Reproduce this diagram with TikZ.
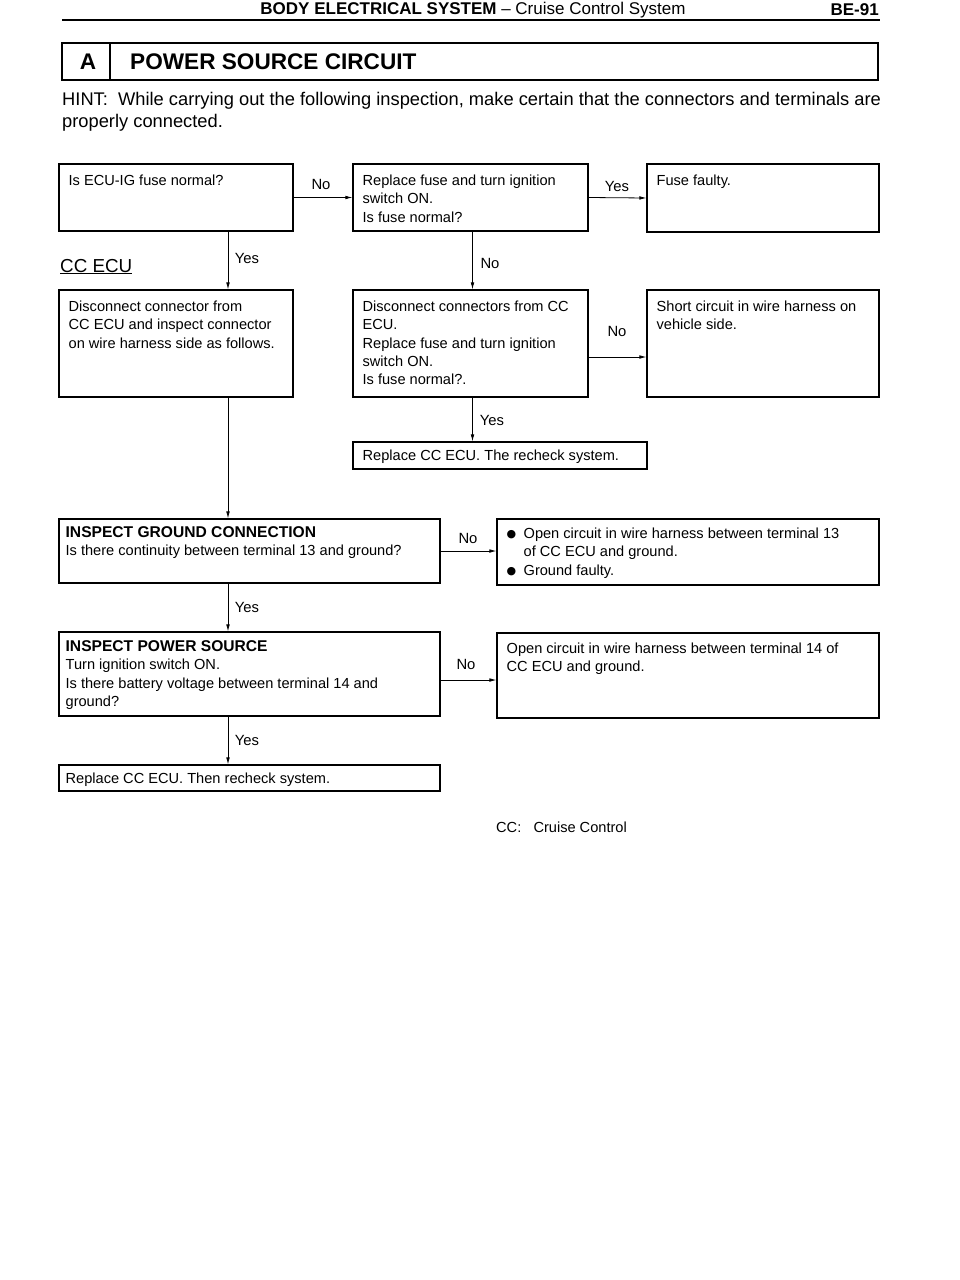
\documentclass[tikz,border=0pt]{standalone}
\usepackage{fontspec}
\setmainfont{Liberation Sans}
\newfontfamily\djv{DejaVu Sans}
\usetikzlibrary{fit,arrows.meta,calc}
\newcommand\bul{\makebox[17pt][l]{\raisebox{0.3pt}{\djv\fontsize{11}{11}\selectfont ●}}}
\begin{document}
\begin{tikzpicture}[x=1pt,y=-1pt,
  bx/.style={draw, line width=1.1pt, inner sep=0pt},
  txt/.style={anchor=north west, align=left, inner sep=0pt, font=\fontsize{14.6}{18.4}\selectfont},
  arr/.style={-{Latex[length=7pt,width=3.6pt]}, line width=0.8pt},
  lbl/.style={font=\fontsize{14.8}{15}\selectfont, inner sep=0pt}]
\useasboundingbox[fill=white] (0,0) rectangle (960,1280);
% header
\node[anchor=base, inner sep=0pt, font=\fontsize{17}{18}\selectfont] (hdr) at (473,14) {\textbf{BODY ELECTRICAL SYSTEM} -- Cruise Control System};
\node[anchor=base east, inner sep=0pt, font=\bfseries\fontsize{17}{18}\selectfont] (pg) at (879,15) {BE-91};
\coordinate (rl) at (62,20); \coordinate (rr) at (880,20);
\draw[line width=2.6pt] (rl) -- (rr);
% title box
\node[bx, line width=1.3pt, fit={(62,43)(878,80)}] (tbox) {};
\coordinate (dt) at (110,43); \coordinate (db) at (110,80);
\draw[line width=1.1pt] (dt) -- (db);
\node[inner sep=0pt, font=\bfseries\fontsize{22.6}{24}\selectfont] (ta) at (88,62) {A};
\node[anchor=west, inner sep=0pt, font=\bfseries\fontsize{22.6}{24}\selectfont] (tt) at (130,62) {POWER SOURCE CIRCUIT};
% hint
\node[anchor=base west, inner sep=0pt, font=\fontsize{18.3}{22}\selectfont] (h1) at (62,105) {HINT:\ \ While carrying out the following inspection, make certain that the connectors and terminals are};
\node[anchor=base west, inner sep=0pt, font=\fontsize{18.3}{22}\selectfont] (h2) at (62,127) {properly connected.};
% boxes
\node[bx, fit={(59,164)(293,231)}] (b1) {};
\node[bx, fit={(353,164)(588,231)}] (b2) {};
\node[bx, fit={(647,164)(879,232)}] (b3) {};
\node[bx, fit={(59,290)(293,397)}] (b4) {};
\node[bx, fit={(353,290)(588,397)}] (b5) {};
\node[bx, fit={(647,290)(879,397)}] (b6) {};
\node[bx, fit={(353,442)(647,469)}] (b7) {};
\node[bx, fit={(59,519)(440,583)}] (b8) {};
\node[bx, fit={(497,519)(879,585)}] (b9) {};
\node[bx, fit={(59,632)(440,716)}] (b10) {};
\node[bx, fit={(497,633)(879,718)}] (b11) {};
\node[bx, fit={(59,765)(440,791)}] (b12) {};
% texts
\node[txt] (t1) at ([xshift=10pt,yshift=-11pt]b1.north west) {Is ECU-IG fuse normal?};
\node[txt] (t2) at ([xshift=10pt,yshift=-11pt]b2.north west) {Replace fuse and turn ignition\\switch ON.\\Is fuse normal?};
\node[txt] (t3) at ([xshift=10pt,yshift=-11pt]b3.north west) {Fuse faulty.};
\node[txt] (t4) at ([xshift=10pt,yshift=-11pt]b4.north west) {Disconnect connector from\\CC ECU and inspect connector\\on wire harness side as follows.};
\node[txt] (t5) at ([xshift=10pt,yshift=-11pt]b5.north west) {Disconnect connectors from CC\\ECU.\\Replace fuse and turn ignition\\switch ON.\\Is fuse normal?.};
\node[txt] (t6) at ([xshift=10pt,yshift=-11pt]b6.north west) {Short circuit in wire harness on\\vehicle side.};
\node[txt] (t7) at ([xshift=10pt,yshift=-8pt]b7.north west) {Replace CC ECU. The recheck system.};
\node[txt] (t8) at ([xshift=7pt,yshift=-8pt]b8.north west) {{\bfseries\fontsize{15.6}{18.4}\selectfont INSPECT GROUND CONNECTION}\\Is there continuity between terminal 13 and ground?};
\node[txt] (t9) at ([xshift=10pt,yshift=-9pt]b9.north west) {\bul Open circuit in wire harness between terminal 13\\\hspace*{17pt}of CC ECU and ground.\\\bul Ground faulty.};
\node[txt] (t10) at ([xshift=7pt,yshift=-9pt]b10.north west) {{\bfseries\fontsize{15.6}{18.4}\selectfont INSPECT POWER SOURCE}\\Turn ignition switch ON.\\Is there battery voltage between terminal 14 and\\ground?};
\node[txt] (t11) at ([xshift=10pt,yshift=-10pt]b11.north west) {Open circuit in wire harness between terminal 14 of\\CC ECU and ground.};
\node[txt] (t12) at ([xshift=7pt,yshift=-8pt]b12.north west) {Replace CC ECU. Then recheck system.};
% CC ECU label
\node[anchor=base west, inner sep=0pt, font=\fontsize{18.8}{20}\selectfont] (cc) at (60,272) {\underline{CC ECU}};
% connectors
\draw[arr] (b1.east) -- (b2.west);
\draw[arr] (b2.east) -- (b3.west);
\draw[arr] ([xshift=52pt]b1.south) -- ([xshift=52pt]b4.north);
\draw[arr] ([xshift=2pt]b2.south) -- ([xshift=2pt]b5.north);
\draw[arr] ([yshift=-13.5pt]b5.east) -- ([yshift=-13.5pt]b6.west);
\draw[arr] ([xshift=2pt]b5.south) -- ([xshift=2pt]b5.south |- b7.north);
\draw[arr] ([xshift=52pt]b4.south) -- ([xshift=52pt]b4.south |- b8.north);
\draw[arr] (b8.east) -- (b8.east -| b9.west);
\draw[arr] ([xshift=-21.5pt]b8.south) -- ([xshift=-21.5pt]b10.north);
\draw[arr] ([yshift=-6pt]b10.east) -- ([yshift=-6pt]b10.east -| b11.west);
\draw[arr] ([xshift=-21.5pt]b10.south) -- ([xshift=-21.5pt]b12.north);
% labels
\node[lbl] (l1) at (321,184) {No};
\node[lbl] (l2) at (617,186) {Yes};
\node[lbl] (l3) at (247,258) {Yes};
\node[lbl] (l4) at (490,263) {No};
\node[lbl] (l5) at (617,331) {No};
\node[lbl] (l6) at (492,420) {Yes};
\node[lbl] (l7) at (468,538) {No};
\node[lbl] (l8) at (247,607) {Yes};
\node[lbl] (l9) at (466,664) {No};
\node[lbl] (l10) at (247,740) {Yes};
% footnote
\node[anchor=west, inner sep=0pt, font=\fontsize{14.6}{15}\selectfont] (fn) at (496,827) {CC:\ \ \ Cruise Control};
\end{tikzpicture}
\end{document}
